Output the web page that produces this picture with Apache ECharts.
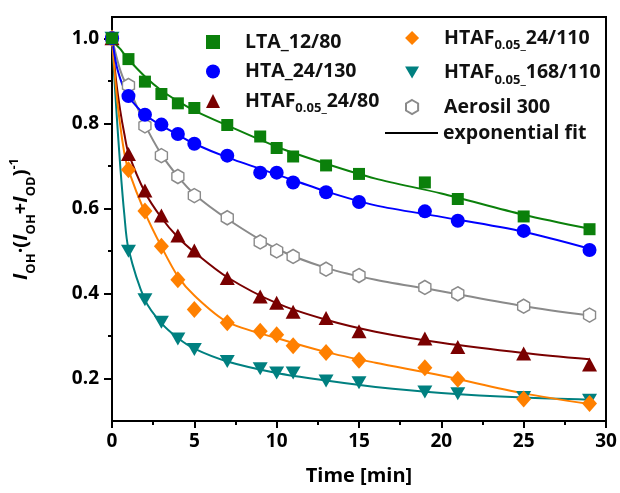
<!DOCTYPE html>
<html>
<head>
<meta charset="utf-8">
<script src="https://cdn.jsdelivr.net/npm/echarts@6/dist/echarts.min.js"></script>
<style>
  html, body { margin: 0; padding: 0; background: #fff; }
  #chart { width: 620px; height: 493px; }
</style>
</head>
<body>
<div id="chart"></div>
<script>
// measured points
const times = [0, 1, 2, 3, 4, 5, 7, 9, 10, 11, 13, 15, 19, 21, 25, 29];
const lta = [1.0, 0.951, 0.898, 0.869, 0.847, 0.836, 0.796, 0.769, 0.742, 0.722, 0.701, 0.681, 0.661, 0.622, 0.581, 0.551];
const hta = [1.0, 0.864, 0.82, 0.797, 0.775, 0.752, 0.724, 0.684, 0.684, 0.661, 0.638, 0.615, 0.593, 0.571, 0.547, 0.502];
const htaf80 = [1.0, 0.728, 0.642, 0.583, 0.536, 0.501, 0.436, 0.393, 0.378, 0.357, 0.342, 0.311, 0.294, 0.274, 0.259, 0.233];
const htaf110 = [1.0, 0.691, 0.594, 0.511, 0.432, 0.362, 0.331, 0.311, 0.303, 0.277, 0.261, 0.243, 0.225, 0.198, 0.152, 0.141];
const htaf168 = [1.0, 0.499, 0.385, 0.332, 0.293, 0.268, 0.240, 0.223, 0.213, 0.213, 0.194, 0.19, 0.168, 0.164, 0.155, 0.149];
const aerosil = [1.0, 0.889, 0.794, 0.724, 0.675, 0.630, 0.578, 0.521, 0.5, 0.487, 0.457, 0.442, 0.414, 0.399, 0.37, 0.349];

// exponential fit curves
const fitT = [0, 0.25, 0.5, 0.75, 1, 2, 3, 4, 5, 7, 10, 13, 16, 20, 25, 29];
const fitLta = [1.0, 0.985, 0.975, 0.962, 0.95, 0.91, 0.877, 0.852, 0.83, 0.795, 0.745, 0.705, 0.67, 0.635, 0.585, 0.552];
const fitHta = [1.0, 0.94, 0.905, 0.88, 0.862, 0.82, 0.795, 0.773, 0.752, 0.72, 0.68, 0.64, 0.607, 0.58, 0.545, 0.505];
const fitHtaf80 = [1.0, 0.9, 0.83, 0.775, 0.73, 0.638, 0.578, 0.532, 0.497, 0.438, 0.377, 0.338, 0.31, 0.284, 0.26, 0.245];
const fitHtaf110 = [1.0, 0.88, 0.795, 0.73, 0.69, 0.59, 0.51, 0.44, 0.395, 0.333, 0.295, 0.262, 0.237, 0.207, 0.165, 0.14];
const fitHtaf168 = [1.0, 0.84, 0.7, 0.585, 0.505, 0.385, 0.33, 0.295, 0.27, 0.24, 0.213, 0.195, 0.18, 0.166, 0.155, 0.15];
const fitAerosil = [1.0, 0.96, 0.925, 0.9, 0.885, 0.797, 0.727, 0.675, 0.633, 0.575, 0.505, 0.46, 0.432, 0.405, 0.37, 0.348];

const yMajor = [0.2, 0.4, 0.6, 0.8, 1.0];
const yMinor = [0.3, 0.5, 0.7, 0.9];

const font = 'Open Sans';
const pair = (xs, ys) => xs.map((x, i) => [x, ys[i]]);

// legend label with subscript 0.05, first token pushed away from the icon
function legendLabel(name) {
  const m = name.match(/^HTAF0\.05_(.*)$/);
  if (m) return '{f|HTAF}{s|0.05_}{b|' + m[1] + '}';
  return '{f|' + name + '}';
}
const base = { fontFamily: font, fontWeight: 'bold', fontSize: 19.5, color: '#111', lineHeight: 22 };
const legendRich = {
  f: Object.assign({}, base, { padding: [0, 0, 0, 20] }),
  b: base,
  s: { fontFamily: font, fontWeight: 'bold', fontSize: 13, color: '#111', lineHeight: 12, verticalAlign: 'bottom', padding: [0, 0, -3, 0] }
};
const fitRich = { f: base, b: base };

const hexagon = 'path://M0,-10 L8.66,-5 L8.66,5 L0,10 L-8.66,5 L-8.66,-5 Z';
const triDown = 'path://M0,0 L20,0 L10,17.3 Z';

function fitLine(name, xs, ys, color) {
  return {
    name: name, type: 'line', data: pair(xs, ys), showSymbol: false,
    smooth: 0.3, z: 1, silent: true,
    lineStyle: { color: color, width: 2 }
  };
}
function points(name, ys, symbol, size, style) {
  return {
    name: name, type: 'scatter', data: pair(times, ys), symbol: symbol,
    symbolSize: size, z: 3, itemStyle: Object.assign({ opacity: 1 }, style)
  };
}

const chart = echarts.init(document.getElementById('chart'));
chart.setOption({
  animation: false,
  grid: { left: 105, right: 14, top: 17, bottom: 72, show: true, borderColor: '#000', borderWidth: 2 },
  legend: [
    {
      left: 201, top: 27, orient: 'vertical', itemGap: 9.5, itemWidth: 14, itemHeight: 14,
      data: ['LTA_12/80', 'HTA_24/130', 'HTAF0.05_24/80'],
      formatter: legendLabel, textStyle: { rich: legendRich }
    },
    {
      left: 400, top: 23, orient: 'vertical', itemGap: 10.5, itemWidth: 14, itemHeight: 14,
      data: ['HTAF0.05_24/110', { name: 'HTAF0.05_168/110', icon: triDown }, 'Aerosil 300'],
      formatter: legendLabel, textStyle: { rich: legendRich }
    },
    {
      left: 380, top: 118, itemWidth: 53, itemHeight: 2,
      data: [{ name: 'exponential fit', icon: 'rect' }],
      formatter: '{f|{name}}', textStyle: { rich: fitRich }
    }
  ],
  xAxis: {
    type: 'value', min: 0, max: 30, interval: 5,
    name: 'Time [min]', nameLocation: 'middle', nameGap: 45,
    nameTextStyle: { fontFamily: font, fontWeight: 'bold', fontSize: 20, color: '#000' },
    axisLine: { lineStyle: { color: '#000', width: 2 } },
    axisTick: { length: 7, lineStyle: { color: '#000', width: 2 } },
    minorTick: { show: true, splitNumber: 2, length: 4, lineStyle: { color: '#000', width: 2 } },
    axisLabel: { margin: 11, fontFamily: font, fontWeight: 'bold', fontSize: 19, color: '#000' },
    splitLine: { show: false }
  },
  yAxis: [
    {
      type: 'value', min: 0.1, max: 1.05,
      name: '{i|I}{sub|OH}{n|·(}{i|I}{sub|OH}{n|+}{i|I}{sub|OD}{n|)}{sup|-1}',
      nameLocation: 'middle', nameGap: 78,
      nameTextStyle: {
        rich: {
          i: { fontFamily: font, fontWeight: 'bold', fontStyle: 'italic', fontSize: 20, color: '#000', lineHeight: 26 },
          n: { fontFamily: font, fontWeight: 'bold', fontSize: 20, color: '#000', lineHeight: 26 },
          sub: { fontFamily: font, fontWeight: 'bold', fontSize: 13, color: '#000', lineHeight: 13, verticalAlign: 'bottom', padding: [0, 0, -4, 0] },
          sup: { fontFamily: font, fontWeight: 'bold', fontSize: 13, color: '#000', lineHeight: 13, verticalAlign: 'top' }
        }
      },
      axisLine: { show: true, lineStyle: { color: '#000', width: 2 } },
      axisTick: { show: true, length: 8, customValues: yMajor, lineStyle: { color: '#000', width: 2 } },
      axisLabel: {
        customValues: yMajor, margin: 13, fontFamily: font, fontWeight: 'bold', fontSize: 19, color: '#000',
        formatter: v => v.toFixed(1)
      },
      splitLine: { show: false }
    },
    {
      type: 'value', min: 0.1, max: 1.05, position: 'left',
      axisLine: { show: false },
      axisTick: { show: true, length: 4, customValues: yMinor, lineStyle: { color: '#000', width: 2 } },
      axisLabel: { show: false },
      splitLine: { show: false }
    }
  ],
  series: [
    fitLine('fit aerosil', fitT, fitAerosil, '#8a8a8a'),
    fitLine('fit 168', fitT, fitHtaf168, '#008080'),
    fitLine('fit 80', fitT, fitHtaf80, '#7a0000'),
    fitLine('fit 110', fitT, fitHtaf110, '#ff8000'),
    fitLine('fit hta', fitT, fitHta, '#0000ff'),
    fitLine('fit lta', fitT, fitLta, '#0b800b'),
    { name: 'exponential fit', type: 'line', data: [], itemStyle: { color: '#000' }, lineStyle: { color: '#000' } },
    points('Aerosil 300', aerosil, hexagon, [12, 14], { color: '#fff', borderColor: '#8a8a8a', borderWidth: 1.5 }),
    points('HTAF0.05_168/110', htaf168, triDown, [15, 13], { color: '#008080' }),
    points('HTAF0.05_24/80', htaf80, 'triangle', [15, 14], { color: '#7a0000' }),
    points('HTAF0.05_24/110', htaf110, 'diamond', [15, 17], { color: '#ff8000' }),
    points('HTA_24/130', hta, 'circle', 14, { color: '#0000ff' }),
    points('LTA_12/80', lta, 'rect', 12, { color: '#0b800b' })
  ]
});
</script>
</body>
</html>
